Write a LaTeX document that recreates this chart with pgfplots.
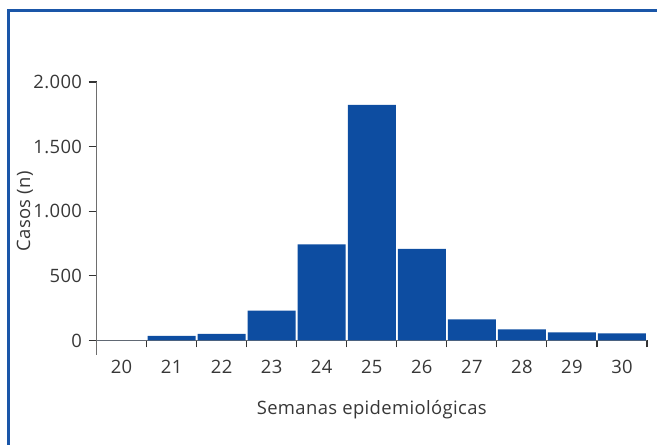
\documentclass[border=0pt]{standalone}
\usepackage{pgfplots}
\pgfplotsset{compat=1.18}
\usepackage{fontspec}
\setmainfont{Open Sans}[LetterSpace=2]
\definecolor{barblue}{RGB}{13,77,161}
\definecolor{frameblue}{RGB}{26,86,168}
\definecolor{txt}{RGB}{55,55,55}
\definecolor{axgray}{RGB}{110,110,110}
\begin{document}
\begin{tikzpicture}[x=1bp,y=1bp]
\path[use as bounding box] (0,0) rectangle (657,445);
\begin{scope}
\clip (0,0) rectangle (657,445);
\draw[frameblue, line width=3bp] (7,434.5) -- (700,434.5);
\draw[frameblue, line width=3bp] (8,434.5) -- (8,-50);
\end{scope}
\begin{axis}[
  at={(96.5bp,104.5bp)}, anchor=south west,
  scale only axis, width=550.5bp, height=258.5bp,
  xmin=19.5, xmax=30.5, ymin=0, ymax=2000,
  axis x line*=bottom, axis y line*=left,
  axis line style={axgray, line width=1.3bp},
  clip=false,
  ybar, bar width=48bp, bar shift=0pt,
  xtick={20,...,30},
  major x tick style={draw=none},
  minor xtick={20.5,21.5,...,30.5},
  minor x tick style={black!80, line width=1.1bp},
  minor tick length=7bp,
  tick align=outside,
  ytick={0,500,1000,1500,2000},
  yticklabels={0,500,1.000,1.500,2.000},
  major y tick style={black!80, line width=1.1bp},
  major tick length=8bp,
  /pgf/number format/assume math mode=true,
  tick label style={font=\fontsize{18.5}{22}\selectfont, text=txt},
  xticklabel style={anchor=center, yshift=-18.5bp},
  yticklabel style={anchor=east, xshift=-3bp},
  ylabel={Casos (n)},
  xlabel={Semanas epidemiológicas},
  label style={font=\fontsize{18.5}{22}\selectfont, text=txt},
  ylabel style={at={(rel axis cs:-0.1299,0.5)}, anchor=center},
  xlabel style={at={(rel axis cs:0.5,-0.269)}, anchor=center},
]
\addplot[fill=barblue, draw=none] coordinates {
  (20,0) (21,35) (22,52) (23,232) (24,744) (25,1822)
  (26,708) (27,163) (28,86) (29,62) (30,55)
};
\draw[axgray, line width=1.3bp] (axis cs:19.5,0) -- ([yshift=-14.5bp]axis cs:19.5,0);
\end{axis}
\end{tikzpicture}
\end{document}
